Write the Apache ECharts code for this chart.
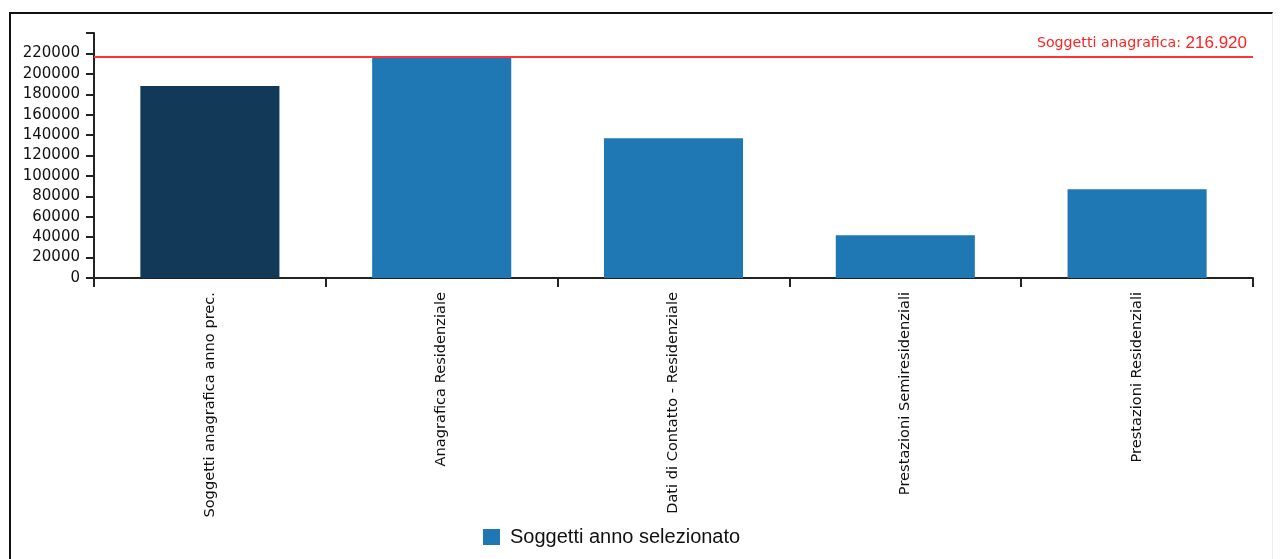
<!DOCTYPE html>
<html>
<head>
<meta charset="utf-8">
<script src="https://cdn.jsdelivr.net/npm/echarts@6/dist/echarts.min.js"></script>
<style>
  html, body { margin: 0; padding: 0; background: #fff; }
  #chart { position: absolute; left: 0; top: 0; width: 1285px; height: 559px; }
  #frame { position: absolute; left: 9px; top: 12px; width: 1261px; height: 560px;
           border-top: 2px solid #111; border-left: 2px solid #111; border-right: 1px solid #eee;
           pointer-events: none; }
</style>
</head>
<body>
<div id="chart"></div>
<div id="frame"></div>
<script>
// ---- data ----
const categories = [
  'Soggetti anagrafica anno prec.',
  'Anagrafica Residenziale',
  'Dati di Contatto - Residenziale',
  'Prestazioni Semiresidenziali',
  'Prestazioni Residenziali'
];
const values = [188000, 216920, 137000, 42000, 87000];
const seriesName = 'Soggetti anno selezionato';
const refLineLabel = 'Soggetti anagrafica: ';
const refLineValue = 216920;
const yTicks = [0, 20000, 40000, 60000, 80000, 100000, 120000, 140000, 160000, 180000, 200000, 220000, 240000];

function fmtIt(v) {
  return String(v).replace(/\B(?=(\d{3})+(?!\d))/g, '.');
}

const chart = echarts.init(document.getElementById('chart'), null, { renderer: 'canvas' });
const yMax = yTicks[yTicks.length - 1];

chart.setOption({
  animation: false,
  backgroundColor: '#ffffff',
  grid: { left: 94, right: 32, top: 33, bottom: 281, containLabel: false },
  legend: {
    data: [seriesName],
    left: 478,
    top: 522,
    itemWidth: 17,
    itemHeight: 16,
    icon: 'rect',
    textStyle: { fontFamily: 'Liberation Sans', fontSize: 20, color: '#111', padding: [0, 0, 0, 5] }
  },
  xAxis: {
    type: 'category',
    data: categories,
    axisLine: { lineStyle: { color: '#222', width: 2 } },
    axisTick: { show: true, length: 9, lineStyle: { color: '#222', width: 2 } },
    axisLabel: {
      rotate: 90,
      margin: 14,
      interval: 0,
      color: '#111',
      fontFamily: 'DejaVu Sans',
      fontSize: 14.6
    },
    splitLine: { show: false }
  },
  yAxis: {
    type: 'value',
    min: 0,
    max: yMax,
    interval: 20000,
    axisLine: { show: true, lineStyle: { color: '#222', width: 2 } },
    axisTick: { show: true, length: 8, lineStyle: { color: '#222', width: 2 } },
    axisLabel: {
      margin: 14,
      color: '#111',
      fontFamily: 'DejaVu Sans',
      fontSize: 15,
      formatter: function (v) { return v === yMax ? '' : String(v); }
    },
    splitLine: { show: false }
  },
  series: [{
    name: seriesName,
    type: 'bar',
    barCategoryGap: '40%',
    itemStyle: { color: '#1f77b4' },
    data: values.map(function (v, i) {
      return i === 0 ? { value: v, itemStyle: { color: '#123957' } } : v;
    }),
    markLine: {
      silent: true,
      symbol: 'none',
      lineStyle: { color: '#ff3333', width: 2, type: 'solid' },
      label: {
        show: true,
        position: 'insideEndTop',
        distance: [6, 5],
        formatter: function () { return '{a|' + refLineLabel + '}{b|' + fmtIt(refLineValue) + '}'; },
        rich: {
          a: { color: '#ff2222', fontFamily: 'DejaVu Sans', fontSize: 14.2 },
          b: { color: '#ff2222', fontFamily: 'Liberation Sans', fontSize: 17 }
        }
      },
      data: [{ yAxis: refLineValue }]
    }
  }]
});
</script>
</body>
</html>
